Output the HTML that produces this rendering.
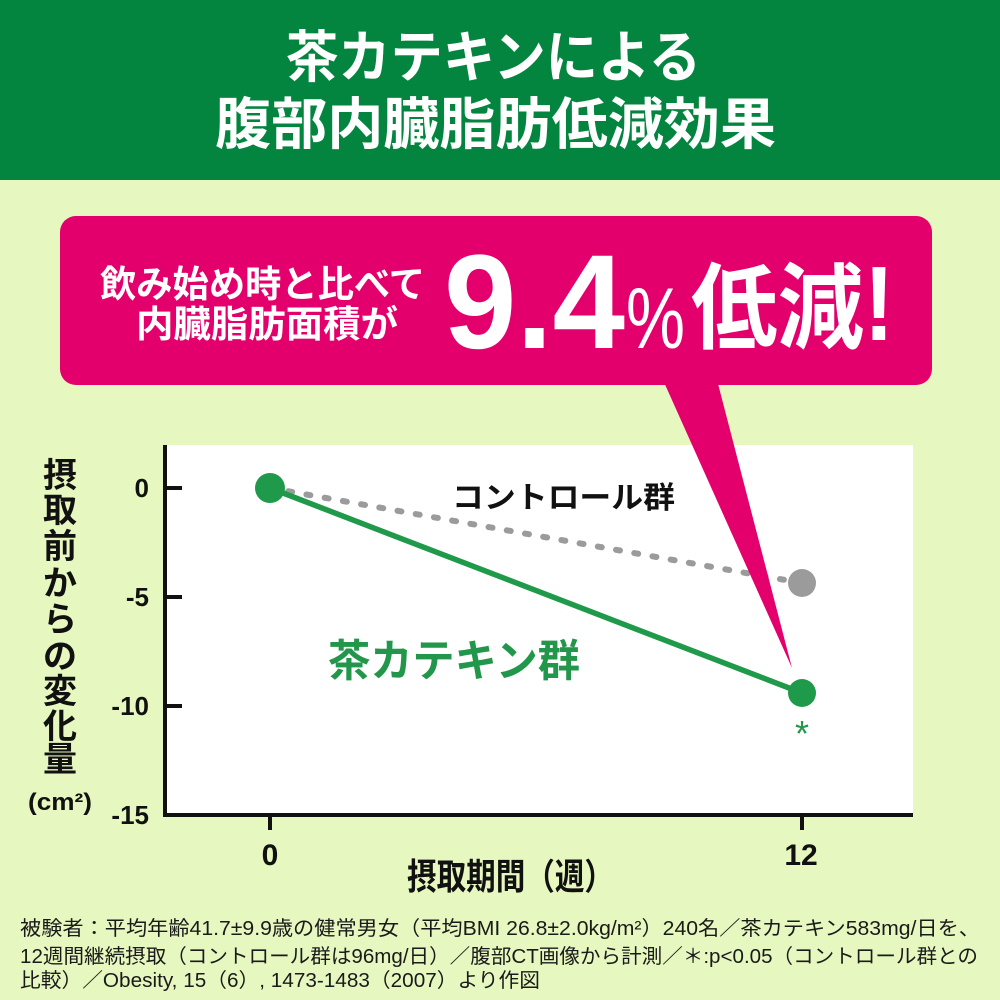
<!DOCTYPE html>
<html><head><meta charset="utf-8"><style>
html,body{margin:0;padding:0;background:#e6f7bf;}
svg{display:block;}
.cjk{font-family:"Liberation Sans","Noto Sans CJK JP",sans-serif;font-weight:700;}
.num{font-family:"Liberation Sans",sans-serif;font-weight:700;}
.fn{font-family:"Liberation Sans","Noto Sans CJK JP",sans-serif;font-weight:400;}
</style></head><body>
<svg width="1000" height="1000" viewBox="0 0 1000 1000" xmlns="http://www.w3.org/2000/svg">
<rect x="0" y="0" width="1000" height="1000" fill="#e6f7bf"/>
<rect x="0" y="0" width="1000" height="180" fill="#04853f"/>
<text class="cjk" x="286" y="77" font-size="56" fill="#fff" textLength="415" lengthAdjust="spacingAndGlyphs">茶カテキンによる</text>
<text class="cjk" x="215" y="144" font-size="56" fill="#fff" textLength="561" lengthAdjust="spacingAndGlyphs">腹部内臓脂肪低減効果</text>

<!-- chart area -->
<rect x="165" y="445" width="748" height="370" fill="#ffffff"/>

<!-- callout -->
<rect x="60" y="216" width="872" height="169" rx="16" ry="16" fill="#e3006c"/>
<text class="cjk" x="100" y="297" font-size="37" fill="#fff" textLength="325" lengthAdjust="spacingAndGlyphs">飲み始め時と比べて</text>
<text class="cjk" x="136" y="337" font-size="37" fill="#fff" textLength="262" lengthAdjust="spacingAndGlyphs">内臓脂肪面積が</text>
<text class="num" x="444" y="348" font-size="134" fill="#fff" textLength="181" lengthAdjust="spacingAndGlyphs">9.4</text>
<text x="626" y="348" font-size="86" fill="#fff" font-family="Liberation Sans, sans-serif" font-weight="400" textLength="59" lengthAdjust="spacingAndGlyphs">%</text>
<text class="cjk" x="691" y="341" font-size="94" fill="#fff" textLength="173" lengthAdjust="spacingAndGlyphs">低減</text>
<text class="num" x="864" y="340" font-size="106" fill="#fff" textLength="30" lengthAdjust="spacingAndGlyphs">!</text>

<!-- axes -->
<line x1="165" y1="445" x2="165" y2="817" stroke="#111" stroke-width="4"/>
<line x1="163" y1="815" x2="913" y2="815" stroke="#111" stroke-width="4"/>
<g stroke="#111" stroke-width="4">
<line x1="165" y1="488" x2="182" y2="488"/>
<line x1="165" y1="597" x2="182" y2="597"/>
<line x1="165" y1="706" x2="182" y2="706"/>
<line x1="270" y1="815" x2="270" y2="830"/>
<line x1="802" y1="815" x2="802" y2="830"/>
</g>
<g class="num" font-size="26" fill="#111" text-anchor="end">
<text x="149" y="497">0</text>
<text x="149" y="606">-5</text>
<text x="149" y="715">-10</text>
<text x="149" y="824">-15</text>
</g>
<g class="num" font-size="30" fill="#111" text-anchor="middle">
<text x="270" y="865">0</text>
<text x="801" y="865">12</text>
</g>
<text class="cjk" x="407" y="889" font-size="36" fill="#111" textLength="207" lengthAdjust="spacingAndGlyphs">摂取期間（週）</text>

<!-- y axis label -->
<g class="cjk" font-size="34" fill="#111" text-anchor="middle">
<text x="60" y="487">摂</text>
<text x="60" y="522">取</text>
<text x="60" y="558">前</text>
<text x="60" y="595">か</text>
<text x="60" y="631">ら</text>
<text x="60" y="668">の</text>
<text x="60" y="703">変</text>
<text x="60" y="738">化</text>
<text x="60" y="771">量</text>
</g>
<text class="cjk" x="28" y="810" font-size="24" fill="#111" textLength="64" lengthAdjust="spacingAndGlyphs">(cm²)</text>

<!-- series -->
<line x1="270" y1="488" x2="802" y2="583" stroke="#9b9b9b" stroke-width="6" stroke-linecap="round" stroke-dasharray="4 14.5"/>
<line x1="270" y1="488" x2="802" y2="693" stroke="#1f9a4a" stroke-width="5.5"/>
<circle cx="802" cy="583" r="14" fill="#9b9b9b"/>
<circle cx="270" cy="488" r="15" fill="#1f9a4a"/>
<circle cx="802" cy="693" r="14" fill="#1f9a4a"/>
<polygon points="663,380 717,380 792,668" fill="#e3006c"/>

<text class="cjk" x="452" y="508" font-size="30" fill="#111" textLength="223" lengthAdjust="spacingAndGlyphs">コントロール群</text>
<text class="cjk" x="328" y="676" font-size="44" fill="#22964a" textLength="252" lengthAdjust="spacingAndGlyphs">茶カテキン群</text>
<text x="802" y="746" font-size="36" fill="#22964a" text-anchor="middle" font-family="Liberation Sans, sans-serif" font-weight="400">*</text>

<!-- footnote -->
<g class="fn" font-size="20" fill="#1a1a1a">
<text x="20" y="935" textLength="960" lengthAdjust="spacingAndGlyphs">被験者：平均年齢41.7±9.9歳の健常男女（平均BMI 26.8±2.0kg/m²）240名／茶カテキン583mg/日を、</text>
<text x="20" y="963" textLength="958" lengthAdjust="spacingAndGlyphs">12週間継続摂取（コントロール群は96mg/日）／腹部CT画像から計測／＊:p&lt;0.05（コントロール群との</text>
<text x="20" y="987" textLength="520" lengthAdjust="spacingAndGlyphs">比較）／Obesity, 15（6）, 1473-1483（2007）より作図</text>
</g>
</svg>
</body></html>
